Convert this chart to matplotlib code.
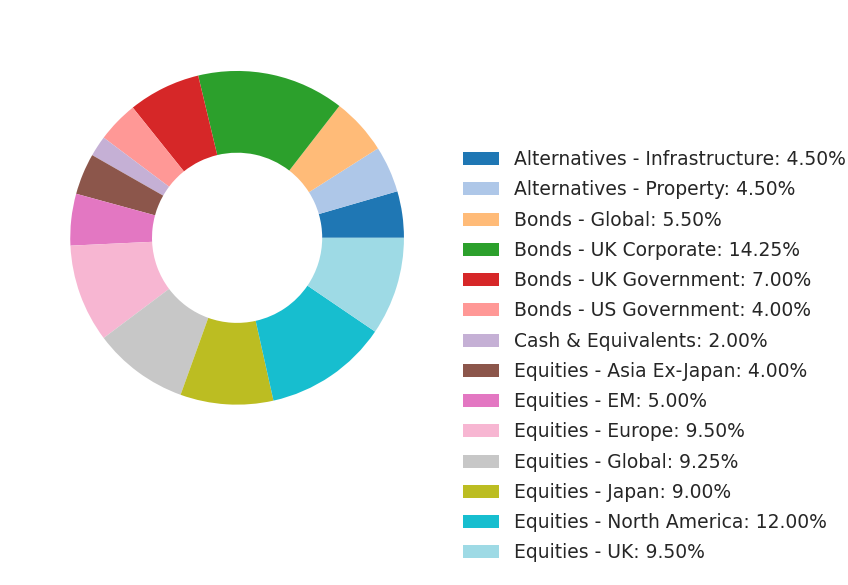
import matplotlib
matplotlib.use('Agg')
import matplotlib.pyplot as plt

# Portfolio allocation (percent).
labels = [
    'Alternatives - Infrastructure',
    'Alternatives - Property',
    'Bonds - Global',
    'Bonds - UK Corporate',
    'Bonds - UK Government',
    'Bonds - US Government',
    'Cash & Equivalents',
    'Equities - Asia Ex-Japan',
    'Equities - EM',
    'Equities - Europe',
    'Equities - Global',
    'Equities - Japan',
    'Equities - North America',
    'Equities - UK',
]
weights = [4.50, 4.50, 5.50, 14.25, 7.00, 4.00, 2.00, 4.00, 5.00, 9.50, 9.25, 9.00, 12.00, 9.50]
colors = ['#1f77b4', '#aec7e8', '#ffbb78', '#2ca02c', '#d62728', '#ff9896', '#c5b0d5',
          '#8c564b', '#e377c2', '#f7b6d2', '#c7c7c7', '#bcbd22', '#17becf', '#9edae5']


def main():
    fig = plt.figure(figsize=(8.48, 5.85), dpi=100)
    ax = fig.add_axes([0.0336, 0.237, 0.492, 0.713])

    wedges, _ = ax.pie(weights, colors=colors, startangle=0, counterclock=True,
                       wedgeprops=dict(width=0.49))
    ax.set_aspect('equal')

    legend_labels = ['%s: %.2f%%' % (l, w) for l, w in zip(labels, weights)]
    leg = fig.legend(wedges, legend_labels, loc='center left', bbox_to_anchor=(0.537, 0.391),
                     frameon=False, fontsize=13.5, labelspacing=0.6, handlelength=1.9,
                     handletextpad=0.85, borderaxespad=0)
    for t in leg.get_texts():
        t.set_color('#262626')

    fig.savefig('out.png', dpi=100)


if __name__ == '__main__':
    main()
